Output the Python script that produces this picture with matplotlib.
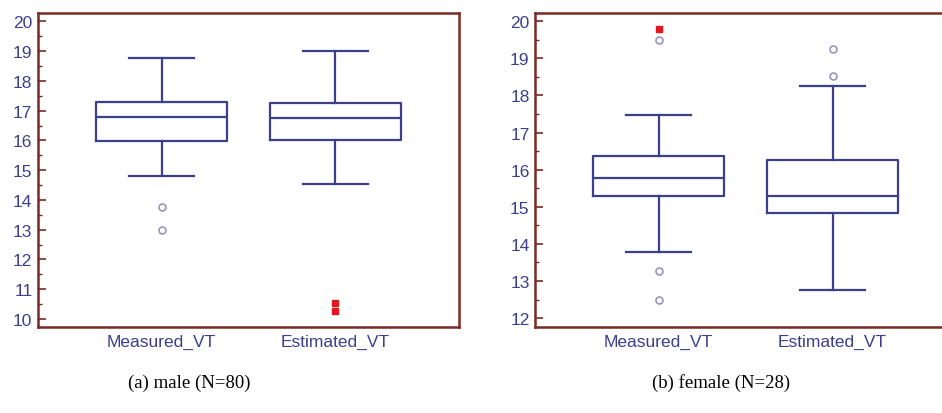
import matplotlib
matplotlib.use("Agg")
import matplotlib.pyplot as plt
from matplotlib.ticker import MultipleLocator

# box statistics
groups = ["Measured_VT", "Estimated_VT"]

male_whishi = [18.77, 19.0]
male_q3 = [17.29, 17.26]
male_med = [16.79, 16.76]
male_q1 = [15.98, 16.02]
male_whislo = [14.79, 14.52]
male_out = [[13.77, 12.99], []]
male_far = [[], [10.55, 10.28]]

female_whishi = [17.47, 18.26]
female_q3 = [16.37, 16.26]
female_med = [15.78, 15.28]
female_q1 = [15.29, 14.82]
female_whislo = [13.78, 12.75]
female_out = [[19.48, 13.28, 12.48], [19.25, 18.52]]
female_far = [[19.79], []]

captions = ["(a) male (N=80)", "(b) female (N=28)"]

box_col = "#3b3f8c"
spine_col = "#7a2a22"
out_col = "#9896bf"
far_col = "#e3171d"

plt.rcParams["font.family"] = ["Liberation Sans", "DejaVu Sans"]

fig = plt.figure(figsize=(9.42, 4.14), dpi=100)
ax1 = fig.add_axes([0.0403, 0.2077, 0.447, 0.7585])
ax2 = fig.add_axes([0.568, 0.2077, 0.447, 0.7585])


def draw(ax, whishi, q3, med, q1, whislo, out, far, ylim):
    stats = []
    for i in range(len(groups)):
        stats.append(dict(med=med[i], q1=q1[i], q3=q3[i], whislo=whislo[i],
                          whishi=whishi[i], fliers=out[i], label=groups[i]))
    line = dict(color=box_col, linewidth=1.6)
    ax.bxp(stats, positions=[1, 2], widths=0.75,
           boxprops=line, whiskerprops=line, capprops=line, medianprops=line,
           flierprops=dict(marker="o", markersize=5, markerfacecolor="none",
                           markeredgecolor=out_col, markeredgewidth=1.2,
                           linestyle="none"))
    for i, vals in enumerate(far):
        if vals:
            ax.plot([i + 1] * len(vals), vals, linestyle="none", marker="s",
                    markersize=4.8, color=far_col)
    ax.set_xlim(0.29, 2.71)
    ax.set_ylim(*ylim)
    ax.yaxis.set_major_locator(MultipleLocator(1))
    ax.yaxis.set_minor_locator(MultipleLocator(0.5))
    for s in ax.spines.values():
        s.set_color(spine_col)
        s.set_linewidth(1.8)
    ax.tick_params(axis="y", which="major", direction="in", length=6,
                   width=1.2, color=spine_col, labelcolor=box_col,
                   labelsize=12.5, pad=4)
    ax.tick_params(axis="y", which="minor", direction="in", length=3,
                   width=1.0, color=spine_col)
    ax.tick_params(axis="x", length=0, labelcolor=box_col, labelsize=12.5,
                   pad=5)


draw(ax1, male_whishi, male_q3, male_med, male_q1, male_whislo,
     male_out, male_far, (9.73, 20.28))
draw(ax2, female_whishi, female_q3, female_med, female_q1, female_whislo,
     female_out, female_far, (11.76, 20.22))

fig.text(189 / 942, 1 - 383 / 414, captions[0], ha="center", va="center",
         fontsize=13.5, family="Liberation Serif")
fig.text(721 / 942, 1 - 383 / 414, captions[1], ha="center", va="center",
         fontsize=13.5, family="Liberation Serif")

fig.savefig("out.png", dpi=100)
